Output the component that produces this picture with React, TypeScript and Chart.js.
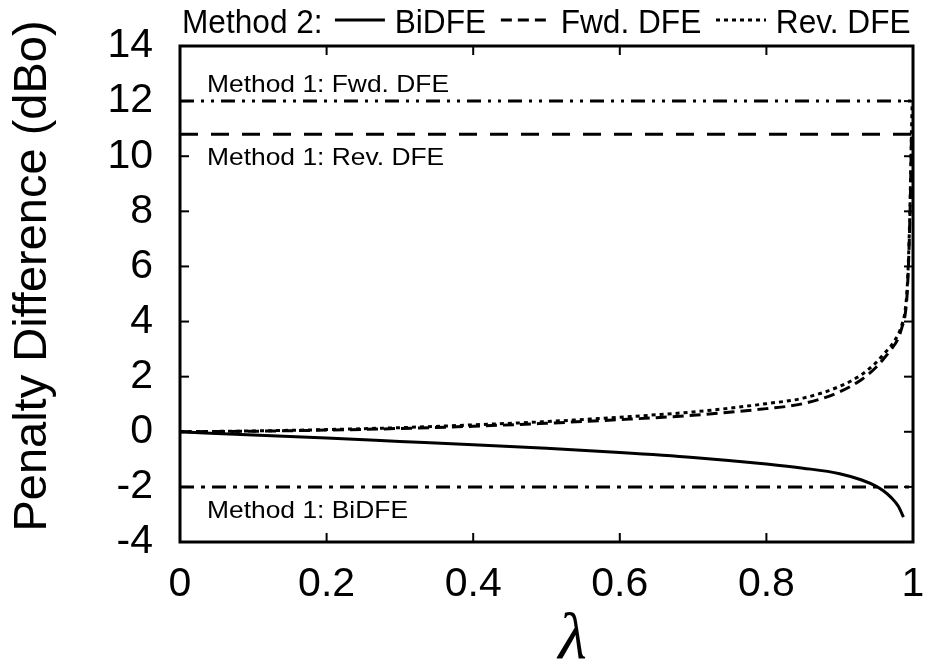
import React, { useEffect, useRef } from 'react';
import { Chart, registerables } from 'chart.js';

Chart.register(...registerables);

// Method 2 curves
const lambdaBi = [0, 0.1, 0.2, 0.3, 0.4, 0.5, 0.6, 0.7, 0.8, 0.85, 0.9, 0.93, 0.95, 0.96, 0.97, 0.98, 0.987];
const biDfe = [0, -0.12, -0.23, -0.35, -0.47, -0.6, -0.75, -0.93, -1.17, -1.32, -1.52, -1.75, -1.98, -2.15, -2.38, -2.7, -3.1];

const lambdaFwd = [0, 0.1, 0.2, 0.3, 0.4, 0.5, 0.6, 0.7, 0.8, 0.85, 0.9, 0.93, 0.95, 0.96, 0.97, 0.98, 0.985, 0.989, 0.992, 0.994, 0.996, 0.998];
const fwdDfe = [0, 0.02, 0.06, 0.12, 0.2, 0.31, 0.44, 0.6, 0.84, 1.02, 1.45, 1.9, 2.35, 2.65, 2.98, 3.4, 3.8, 4.2, 5.0, 6.2, 8.0, 10.8];

const lambdaRev = [0, 0.1, 0.2, 0.3, 0.4, 0.5, 0.6, 0.7, 0.8, 0.85, 0.9, 0.93, 0.95, 0.96, 0.97, 0.98, 0.985, 0.989, 0.992, 0.994, 0.996, 0.998, 0.999];
const revDfe = [0, 0.03, 0.08, 0.15, 0.25, 0.37, 0.53, 0.72, 1.02, 1.22, 1.65, 2.08, 2.52, 2.82, 3.12, 3.55, 3.9, 4.35, 5.2, 6.4, 8.3, 11.0, 12.0];

// Method 1 constant levels
const method1Span = [0, 1];
const method1Fwd = 12.0;
const method1Rev = 10.8;
const method1Bi = -2.0;

const xTicks = [0, 0.2, 0.4, 0.6, 0.8, 1];
const yTicks = [-4, -2, 0, 2, 4, 6, 8, 10, 12, 14];

const legendPrefix = 'Method 2:';
const legendLabels = ['BiDFE', 'Fwd. DFE', 'Rev. DFE'];
const annotationLabels = ['Method 1: Fwd. DFE', 'Method 1: Rev. DFE', 'Method 1: BiDFE'];
const yTitle = 'Penalty Difference (dBo)';
const xTitle = 'λ';

const SANS = '"Liberation Sans", Arial, Helvetica, sans-serif';
const SERIF = '"Liberation Serif", "DejaVu Serif", serif';

const DASH_SOLID: number[] = [];
const DASH_FWD = [11, 6];
const DASH_REV = [4, 4];
const DASH_M1_FWD = [14, 7, 3, 7, 3, 7];
const DASH_M1_REV = [18, 13];
const DASH_M1_BI = [14, 7, 4, 7];

const pts = (xs: number[], ys: number[]) => xs.map((x, i) => ({ x, y: ys[i] }));
const flat = (v: number) => method1Span.map((x) => ({ x, y: v }));

const deco = {
  id: 'deco',
  afterDraw(chart: any) {
    const { ctx, chartArea: a, scales } = chart;
    const xs = scales.x;
    const ys = scales.y;
    const line = (x1: number, y1: number, x2: number, y2: number) => {
      ctx.beginPath();
      ctx.moveTo(x1, y1);
      ctx.lineTo(x2, y2);
      ctx.stroke();
    };
    ctx.save();
    ctx.strokeStyle = '#000';
    ctx.fillStyle = '#000';
    ctx.setLineDash([]);
    ctx.lineWidth = 2;
    yTicks.forEach((v) => {
      const p = ys.getPixelForValue(v);
      line(a.left, p, a.left + 9, p);
      line(a.right - 9, p, a.right, p);
    });
    xTicks.forEach((v) => {
      const p = xs.getPixelForValue(v);
      line(p, a.bottom, p, a.bottom - 9);
      line(p, a.top, p, a.top + 9);
    });
    ctx.lineWidth = 3;
    ctx.strokeRect(a.left, a.top, a.right - a.left, a.bottom - a.top);

    // y title
    ctx.save();
    ctx.translate(33, 276);
    ctx.rotate(-Math.PI / 2);
    ctx.font = `47px ${SANS}`;
    ctx.textAlign = 'center';
    ctx.textBaseline = 'middle';
    ctx.fillText(yTitle, 0, 0);
    ctx.restore();

    // x title
    ctx.font = `italic 66px ${SERIF}`;
    ctx.textAlign = 'center';
    ctx.textBaseline = 'alphabetic';
    ctx.fillText(xTitle, (a.left + a.right) / 2 + 26, 658);

    // annotations
    const annot = (text: string, yPix: number) => {
      ctx.save();
      ctx.font = `24px ${SANS}`;
      ctx.textAlign = 'left';
      ctx.textBaseline = 'alphabetic';
      ctx.translate(a.left + 27, yPix);
      ctx.scale(1.1, 1);
      ctx.fillText(text, 0, 0);
      ctx.restore();
    };
    annot(annotationLabels[0], ys.getPixelForValue(method1Fwd) - 9);
    annot(annotationLabels[1], ys.getPixelForValue(method1Rev) + 31);
    annot(annotationLabels[2], ys.getPixelForValue(method1Bi) + 31);

    // legend
    const sx = 0.93;
    ctx.font = `34px ${SANS}`;
    ctx.textAlign = 'left';
    ctx.textBaseline = 'alphabetic';
    const base = 33;
    const lineY = 20;
    const sample = 50;
    const dashes = [DASH_SOLID, DASH_FWD, DASH_REV];
    const w = (t: string) => ctx.measureText(t).width * sx;
    const textTotal = w(legendPrefix) + legendLabels.reduce((s, t) => s + w(t), 0);
    const startX = a.left + 2;
    const endX = a.right;
    const gap = (endX - startX - textTotal - 3 * sample) / 6;
    const txt = (t: string, x0: number) => {
      ctx.save();
      ctx.translate(x0, base);
      ctx.scale(sx, 1);
      ctx.fillText(t, 0, 0);
      ctx.restore();
    };
    let x = startX;
    txt(legendPrefix, x);
    x += w(legendPrefix) + gap;
    legendLabels.forEach((lab, i) => {
      ctx.setLineDash(dashes[i]);
      ctx.lineWidth = 3;
      line(x, lineY, x + sample, lineY);
      ctx.setLineDash([]);
      x += sample + gap * 0.8;
      txt(lab, x);
      x += w(lab) + gap * 1.2;
    });
    ctx.restore();
  },
};

export default function App() {
  const ref = useRef<HTMLCanvasElement>(null);
  useEffect(() => {
    if (!ref.current) return;
    const common = { pointRadius: 0, borderColor: '#000', borderWidth: 3, fill: false, tension: 0 };
    const chart = new Chart(ref.current, {
      type: 'line',
      data: {
        datasets: [
          { ...common, label: 'M1 Fwd', data: flat(method1Fwd), borderDash: DASH_M1_FWD },
          { ...common, label: 'M1 Rev', data: flat(method1Rev), borderDash: DASH_M1_REV },
          { ...common, label: 'M1 Bi', data: flat(method1Bi), borderDash: DASH_M1_BI },
          { ...common, label: 'BiDFE', data: pts(lambdaBi, biDfe), borderDash: DASH_SOLID, cubicInterpolationMode: 'monotone' },
          { ...common, label: 'Fwd. DFE', data: pts(lambdaFwd, fwdDfe), borderDash: DASH_FWD, cubicInterpolationMode: 'monotone' },
          { ...common, label: 'Rev. DFE', data: pts(lambdaRev, revDfe), borderDash: DASH_REV, cubicInterpolationMode: 'monotone' },
        ],
      },
      options: {
        responsive: false,
        animation: false,
        devicePixelRatio: 1,
        layout: { padding: { left: 0, right: 14, top: 46, bottom: 0 } },
        plugins: { legend: { display: false }, tooltip: { enabled: false }, title: { display: false } },
        scales: {
          x: {
            type: 'linear',
            min: 0,
            max: 1,
            grid: { display: false, drawTicks: false },
            border: { display: false },
            ticks: {
              stepSize: 0.2,
              color: '#000',
              padding: 18,
              font: { family: SANS, size: 41 },
              maxRotation: 0,
              callback: (v: any) => String(Math.round(Number(v) * 10) / 10),
            },
            afterFit: (s: any) => {
              s.height = 128;
              s.paddingLeft = 0;
              s.paddingRight = 0;
            },
          },
          y: {
            type: 'linear',
            min: -4,
            max: 14,
            grid: { display: false, drawTicks: false },
            border: { display: false },
            ticks: {
              stepSize: 2,
              color: '#000',
              padding: 27,
              font: { family: SANS, size: 41 },
            },
            afterFit: (s: any) => {
              s.width = 180;
              s.paddingTop = 0;
              s.paddingBottom = 0;
            },
          },
        },
      },
      plugins: [deco],
    } as any);
    return () => chart.destroy();
  }, []);
  return (
    <div style={{ position: 'absolute', left: 0, top: 0, width: 927, height: 670, background: '#fff' }}>
      <canvas ref={ref} width={927} height={670} style={{ display: 'block' }} />
    </div>
  );
}
